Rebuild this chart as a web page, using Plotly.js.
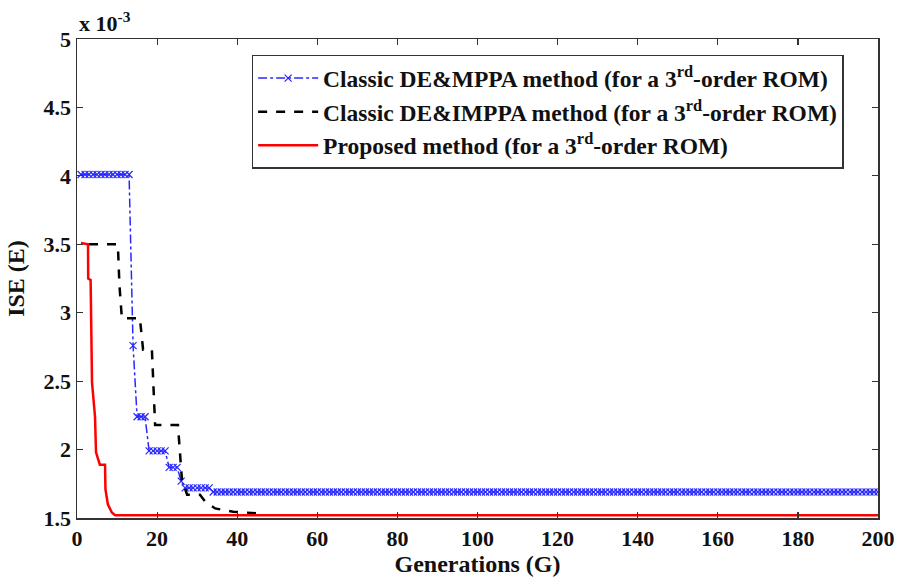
<!DOCTYPE html>
<html>
<head>
<meta charset="utf-8">
<script src="https://cdn.plot.ly/plotly-3.0.1.min.js"></script>
<style>html,body{margin:0;padding:0;background:#fff}#chart{width:900px;height:578px}</style>
</head>
<body>
<div id="chart"></div>
<script>
// Values in units of 1e-3
// Classic DE&MPPA: step levels read from the picture and their run lengths (generations)
var mppaLevels = [4.01, 2.76, 2.24, 1.99, 1.87, 1.77, 1.72, 1.69];
var mppaRuns   = [13, 1, 3, 5, 3, 1, 7, 167];

// Classic DE&IMPPA (dashed black)
var imppaGen = [3, 10.2, 10.6, 11.2, 15.7, 16.5, 18.7, 19.5, 25.2, 26.2, 27.5, 30.7, 32, 34.5, 39, 45];
var imppaISE = [3.5, 3.5, 3.2, 2.96, 2.96, 2.73, 2.73, 2.18, 2.18, 1.78, 1.67, 1.67, 1.62, 1.57, 1.545, 1.535];

// Proposed method (solid red)
var propGen = [1, 2.75, 2.8, 3.4, 3.75, 4.5, 4.75, 5.7, 7, 7.1, 7.7, 8.7, 9.5, 200];
var propISE = [3.51, 3.5, 3.25, 3.24, 2.49, 2.24, 1.98, 1.89, 1.89, 1.71, 1.6, 1.54, 1.52, 1.52];

var legendNames = [
  'Classic DE&amp;MPPA method (for a 3<sup>rd</sup>-order ROM)',
  'Classic DE&amp;IMPPA method (for a 3<sup>rd</sup>-order ROM)',
  'Proposed method (for a 3<sup>rd</sup>-order ROM)'
];
var xTicks = [0, 20, 40, 60, 80, 100, 120, 140, 160, 180, 200];
var yTicks = [1.5, 2, 2.5, 3, 3.5, 4, 4.5, 5];
var yTickText = ['1.5', '2', '2.5', '3', '3.5', '4', '4.5', '5'];

// expand the step levels into one point per generation
var mppaGen = [], mppaISE = [], g = 1;
for (var i = 0; i < mppaLevels.length; i++) {
  for (var k = 0; k < mppaRuns[i]; k++) { mppaGen.push(g); mppaISE.push(mppaLevels[i]); g++; }
}

var fontFam = 'Liberation Serif';

var traces = [
  {x: mppaGen, y: mppaISE, name: legendNames[0], type: 'scatter', mode: 'lines+markers',
   legendgroup: 'a',
   line: {color: 'rgb(40,40,255)', width: 1.5, dash: 'dashdot'},
   marker: {symbol: 'x-thin-open', size: 7, color: 'rgb(40,40,255)', line: {width: 1.2, color: 'rgb(40,40,255)'}}},
  {x: imppaGen, y: imppaISE, name: legendNames[1], type: 'scatter', mode: 'lines',
   legendgroup: 'b',
   line: {color: 'black', width: 2.5, dash: 'dash'}},
  {x: propGen, y: propISE, name: legendNames[2], type: 'scatter', mode: 'lines',
   legendgroup: 'c',
   line: {color: 'rgb(255,0,0)', width: 2.5}}
];

var axisCommon = {
  showline: true, linecolor: '#333', linewidth: 1.5, mirror: 'ticks',
  ticks: 'inside', ticklen: 6, tickcolor: '#333', tickwidth: 1.2,
  showgrid: false, zeroline: false,
  tickfont: {family: fontFam, size: 22, color: '#111', weight: 'bold'}
};

var layout = {
  width: 900, height: 578,
  margin: {l: 77, r: 22, t: 39, b: 60},
  paper_bgcolor: '#fff', plot_bgcolor: '#fff',
  showlegend: true,
  legend: {
    x: 0.218, y: 0.967, xanchor: 'left', yanchor: 'top',
    bgcolor: '#fff', bordercolor: '#333', borderwidth: 1.5,
    font: {family: fontFam, size: 23.5, color: '#111', weight: 'bold'},
    itemwidth: 60, tracegroupgap: 9, traceorder: 'normal'
  },
  xaxis: Object.assign({}, axisCommon, {
    range: [0, 200], tickvals: xTicks, ticktext: xTicks.map(String),
    title: {text: 'Generations (G)', standoff: 3,
            font: {family: fontFam, size: 24, color: '#111', weight: 'bold'}}
  }),
  yaxis: Object.assign({}, axisCommon, {
    range: [1.5, 5], tickvals: yTicks, ticktext: yTickText,
    title: {text: 'ISE (E)', standoff: 12,
            font: {family: fontFam, size: 24, color: '#111', weight: 'bold'}}
  }),
  annotations: [{
    xref: 'paper', yref: 'paper', x: 0, y: 1, xanchor: 'left', yanchor: 'bottom',
    text: 'x 10<sup>-3</sup>', showarrow: false, yshift: 1,
    font: {family: fontFam, size: 22, color: '#111', weight: 'bold'}
  }]
};

Plotly.newPlot('chart', traces, layout, {displayModeBar: false, staticPlot: true});
</script>
</body>
</html>
